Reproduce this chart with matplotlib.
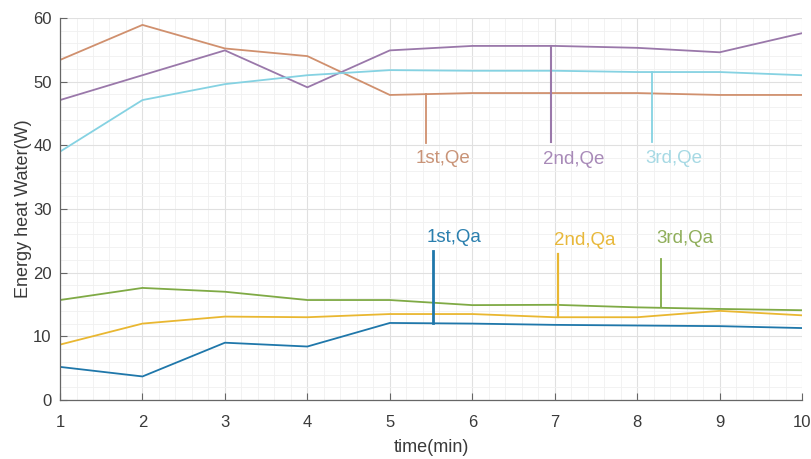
import numpy as np
import matplotlib.pyplot as plt
from matplotlib.ticker import MultipleLocator

plt.rcParams['font.family'] = ['Liberation Sans', 'DejaVu Sans']

# data
time_min = [1, 2, 3, 4, 5, 6, 7, 8, 9, 10]
qa_1st = [5.2, 3.7, 9.0, 8.4, 12.1, 12.0, 11.8, 11.7, 11.6, 11.3]
qa_2nd = [8.7, 12.0, 13.1, 13.0, 13.5, 13.5, 13.0, 13.0, 14.0, 13.3]
qa_3rd = [15.7, 17.6, 17.0, 15.7, 15.7, 14.9, 14.95, 14.55, 14.3, 14.1]
qe_1st = [53.4, 58.9, 55.2, 54.0, 47.9, 48.2, 48.2, 48.2, 47.9, 47.9]
qe_2nd = [47.1, 51.0, 54.9, 49.1, 54.9, 55.6, 55.6, 55.3, 54.6, 57.6]
qe_3rd = [39.0, 47.1, 49.6, 51.0, 51.8, 51.7, 51.7, 51.5, 51.5, 51.0]

# callout labels: text, marker line x, line top / bottom, text position
label_names = ['1st,Qe', '2nd,Qe', '3rd,Qe', '1st,Qa', '2nd,Qa', '3rd,Qa']
label_x = [5.44, 6.95, 8.18, 5.52, 7.04, 8.29]
line_top = [48.1, 55.6, 51.5, 23.4, 22.9, 22.1]
line_bottom = [40.4, 40.5, 40.5, 12.1, 13.0, 14.6]
text_x = [5.31, 6.86, 8.10, 5.45, 6.99, 8.23]
text_y = [38.0, 37.8, 38.0, 25.5, 25.1, 25.4]

series = [qe_1st, qe_2nd, qe_3rd, qa_1st, qa_2nd, qa_3rd]
line_colors = ['#d0906e', '#9a78aa', '#85d2e2', '#1f77aa', '#e9b731', '#7faa45']
text_colors = ['#c99478', '#a88ab8', '#a6d9e4', '#2a7fae', '#e8b83a', '#8fae5a']
callout_w = [1.3, 1.5, 1.3, 2.0, 1.6, 1.3]

fig = plt.figure(figsize=(8.11, 4.59), dpi=100)
ax = fig.add_axes([0.074, 0.1285, 0.915, 0.8325])

for vals, c in zip(series, line_colors):
    ax.plot(time_min, vals, color=c, lw=1.3)

for name, x, top, bot, tx, ty, lc, tc, w in zip(label_names, label_x, line_top, line_bottom,
                                               text_x, text_y, line_colors, text_colors, callout_w):
    ax.plot([x, x], [bot, top], color=lc, lw=w)
    ax.text(tx, ty, name, color=tc, fontsize=13.5, va='center', ha='left')

ax.set_xlim(1, 10)
ax.set_ylim(0, 60)
ax.set_xticks(range(1, 11))
ax.set_yticks(range(0, 61, 10))
ax.xaxis.set_minor_locator(MultipleLocator(0.2))
ax.yaxis.set_minor_locator(MultipleLocator(2))
ax.grid(which='major', color='#e0e0e0', lw=0.8)
ax.grid(which='minor', color='#f0f0f0', lw=0.6)
ax.set_axisbelow(True)
ax.tick_params(which='major', direction='in', length=5, color='#666666',
               labelsize=12, labelcolor='#3a3a3a')
ax.tick_params(axis='x', pad=11)
ax.tick_params(axis='y', pad=6)
ax.tick_params(which='minor', length=0)
for s in ['top', 'right']:
    ax.spines[s].set_visible(False)
for s in ['left', 'bottom']:
    ax.spines[s].set_color('#666666')
    ax.spines[s].set_linewidth(0.9)

ax.set_xlabel('time(min)', fontsize=13, color='#3a3a3a', labelpad=6)
ax.set_ylabel('Energy heat Water(W)', fontsize=13, color='#3a3a3a', labelpad=1)

fig.savefig('out.png', dpi=100)
